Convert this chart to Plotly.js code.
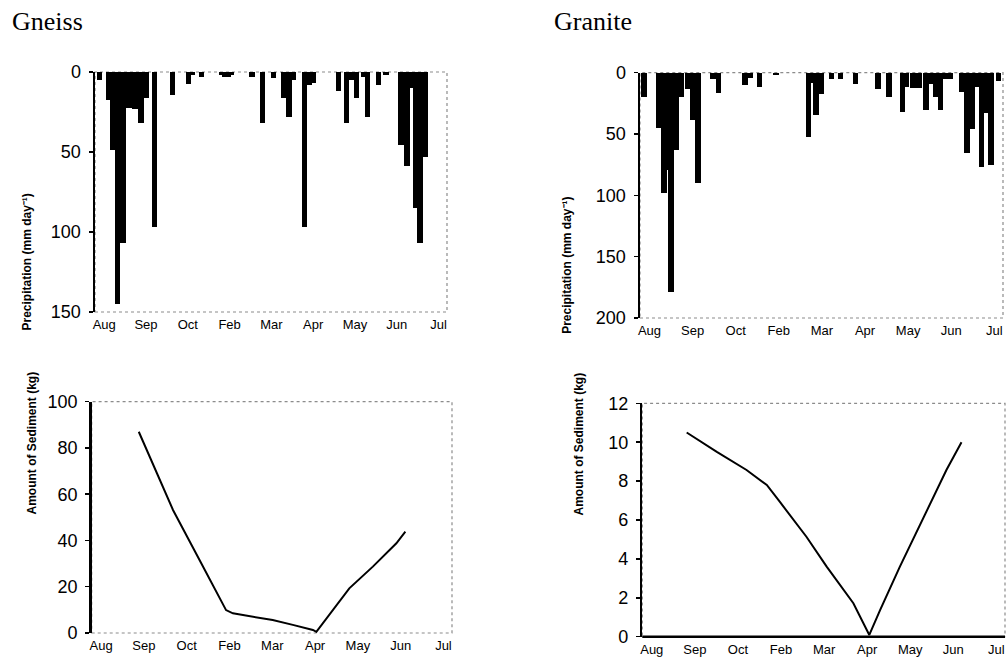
<!DOCTYPE html>
<html>
<head>
<meta charset="utf-8">
<script src="https://cdn.plot.ly/plotly-3.0.1.min.js"></script>
<style>html,body{margin:0;padding:0;background:#fff;}#chart{width:1006px;height:660px;}</style>
</head>
<body>
<div id="chart"></div>
<script>
// Month tick labels (equally spaced on the axis)
const months = ['Aug','Sep','Oct','Feb','Mar','Apr','May','Jun','Jul'];
const monthPos = [0,1,2,3,4,5,6,7,8];

// Gneiss precipitation (mm day^-1), bar positions in month units
const gneissRainX = [-0.11,0.10,0.20,0.32,0.45,0.59,0.74,0.88,1.01,1.20,1.63,2.02,2.10,2.33,2.82,2.89,2.96,3.03,3.54,3.79,4.05,4.30,4.42,4.52,4.79,4.91,4.99,5.61,5.80,5.90,6.04,6.20,6.30,6.56,6.74,7.10,7.24,7.36,7.44,7.55,7.67];
const gneissRainY = [5,17.5,49,145,106.7,22.7,23,31.7,16,96.7,14.4,7.3,2,3.3,2,3,3,2,3.3,31.7,4,16,28,5,96.7,8,7,12,31.7,5,16,3,28,8,2,45.6,59,10,85,107,53];

// Granite precipitation (mm day^-1)
const graniteRainX = [-0.13,0.22,0.33,0.42,0.50,0.63,0.73,0.88,1.01,1.13,1.47,1.60,2.22,2.33,2.55,2.94,3.69,3.77,3.86,3.98,4.22,4.43,4.78,5.30,5.55,5.87,5.95,6.11,6.25,6.42,6.50,6.64,6.75,6.86,6.97,7.25,7.37,7.49,7.61,7.70,7.80,7.92,8.10];
const graniteRainY = [19.6,45,98,79,179,63,19.6,13.6,38.6,89.7,5.4,16.8,10,4,12,2,52.5,8,34.5,17,5,5.5,9.5,13,20,32,12,12.7,12.7,30,9,19.6,30,5,5,16,65.7,46,12,76.6,33,75,7];

// Amount of sediment (kg)
const gneissSedX = [0.88,1.68,2.30,2.92,3.08,3.55,4.01,4.48,4.95,5.03,5.30,5.80,6.35,6.90,7.11];
const gneissSedY = [87,53.2,31.6,9.9,8.5,7.0,5.6,3.5,1.3,0.5,7.0,19.3,28.7,38.8,43.8];
const graniteSedX = [0.81,1.51,2.20,2.67,2.97,3.59,4.06,4.68,5.05,5.30,5.76,6.38,6.84,7.19];
const graniteSedY = [10.5,9.5,8.57,7.8,6.94,5.14,3.6,1.72,0.09,1.37,3.6,6.5,8.57,10.0];

const panelTitles = ['Gneiss','Granite'];
const rainTitle = 'Precipitation (mm day\u207B\u00B9)';
const sedTitle = 'Amount of Sediment (kg)';

const sans = 'Liberation Sans, Arial, sans-serif';
const serif = 'Liberation Serif, Times New Roman, serif';

const traces = [
  {type:'bar', x:gneissRainX, y:gneissRainY, xaxis:'x', yaxis:'y', width:0.13,
   marker:{color:'#000', line:{width:0}}, hoverinfo:'x+y'},
  {type:'bar', x:graniteRainX, y:graniteRainY, xaxis:'x2', yaxis:'y2', width:0.13,
   marker:{color:'#000', line:{width:0}}, hoverinfo:'x+y'},
  {type:'scatter', mode:'lines', x:gneissSedX, y:gneissSedY, xaxis:'x3', yaxis:'y3',
   line:{color:'#000', width:2}},
  {type:'scatter', mode:'lines', x:graniteSedX, y:graniteSedY, xaxis:'x4', yaxis:'y4',
   line:{color:'#000', width:2}}
];

function xax(domain){
  return {domain:domain, range:[-0.22,8.2], tickvals:monthPos, ticktext:months,
    ticks:'', showgrid:false, zeroline:false, showline:false,
    tickfont:{family:sans, size:13, color:'#000'}, ticklabelstandoff:3, fixedrange:true};
}
function yax(domain, range, anchor, dtick){
  return {domain:domain, range:range, anchor:anchor, dtick:dtick, showgrid:false, zeroline:false,
    showline:true, linecolor:'#000', linewidth:2.5, ticks:'outside', ticklen:4, tickwidth:1.5,
    tickcolor:'#000', tickfont:{family:sans, size:18, color:'#000'}, ticklabelstandoff:4, fixedrange:true};
}

const d = {
  tl:{x:[95/1006, 447/1006], y:[1-312/660, 1-72/660]},
  tr:{x:[640/1006, 1003/1006], y:[1-318/660, 1-72.7/660]},
  bl:{x:[91.7/1006, 452/1006], y:[1-633/660, 1-401.7/660]},
  br:{x:[642.3/1006, 1005/1006], y:[1-636.7/660, 1-403.3/660]}
};

function box(xr, yr, solidBottom){
  const s = [{type:'rect', xref:xr+' domain', yref:yr+' domain', x0:0, x1:1, y0:0, y1:1,
    line:{color:'#8c8c8c', width:1.2, dash:'dot'}, layer:'below'}];
  if (solidBottom) s.push({type:'line', xref:xr+' domain', yref:yr+' domain', x0:0, x1:1, y0:0, y1:0,
    line:{color:'#000', width:2.5}});
  return s;
}

const layout = {
  width:1006, height:660, margin:{l:0, r:0, t:0, b:0},
  paper_bgcolor:'#fff', plot_bgcolor:'#fff', showlegend:false, bargap:0,
  xaxis:Object.assign(xax(d.tl.x), {anchor:'y'}),
  yaxis:yax(d.tl.y, [150,0], 'x', 50),
  xaxis2:Object.assign(xax(d.tr.x), {anchor:'y2'}),
  yaxis2:yax(d.tr.y, [200,0], 'x2', 50),
  xaxis3:Object.assign(xax(d.bl.x), {anchor:'y3'}),
  yaxis3:yax(d.bl.y, [0,100], 'x3', 20),
  xaxis4:Object.assign(xax(d.br.x), {anchor:'y4'}),
  yaxis4:yax(d.br.y, [0,12], 'x4', 2),
  shapes:[].concat(box('x','y',false), box('x2','y2',false), box('x3','y3',false), box('x4','y4',true)),
  annotations:[
    {text:panelTitles[0], xref:'paper', yref:'paper', x:10/1006, y:1-22/660, xanchor:'left', yanchor:'middle',
     showarrow:false, font:{family:serif, size:26, color:'#000'}},
    {text:panelTitles[1], xref:'paper', yref:'paper', x:552/1006, y:1-22/660, xanchor:'left', yanchor:'middle',
     showarrow:false, font:{family:serif, size:26, color:'#000'}},
    {text:'<b>'+rainTitle+'</b>', xref:'paper', yref:'paper', x:17/1006, y:(d.tl.y[0]+d.tl.y[1])/2, textangle:-90,
     showarrow:false, font:{family:sans, size:12, color:'#000'}},
    {text:'<b>'+rainTitle+'</b>', xref:'paper', yref:'paper', x:567/1006, y:(d.tr.y[0]+d.tr.y[1])/2, textangle:-90,
     showarrow:false, font:{family:sans, size:12, color:'#000'}},
    {text:'<b>'+sedTitle+'</b>', xref:'paper', yref:'paper', x:22/1006, y:1-517/660, textangle:-90,
     showarrow:false, font:{family:sans, size:12, color:'#000'}},
    {text:'<b>'+sedTitle+'</b>', xref:'paper', yref:'paper', x:578/1006, y:1-518/660, textangle:-90,
     showarrow:false, font:{family:sans, size:12, color:'#000'}}
  ]
};

Plotly.newPlot('chart', traces, layout, {displayModeBar:false, staticPlot:true});
</script>
</body>
</html>
